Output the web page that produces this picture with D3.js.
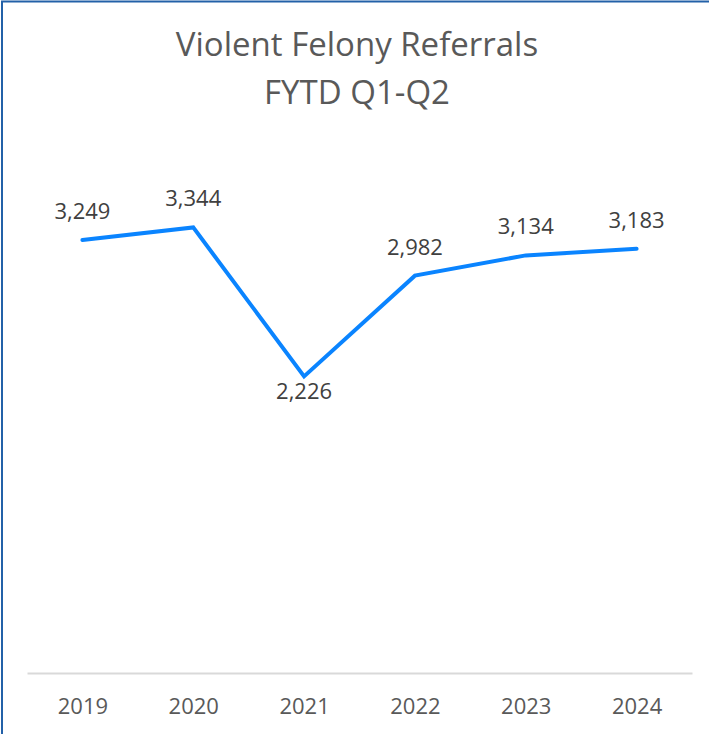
<!DOCTYPE html>
<html>
<head>
<meta charset="utf-8">
<script src="https://cdn.jsdelivr.net/npm/d3@7"></script>
<style>
  body { margin: 0; background: #fff; }
  svg text { font-family: "Open Sans", sans-serif; }
</style>
</head>
<body>
<div id="chart"></div>
<script>
const years = ['2019', '2020', '2021', '2022', '2023', '2024'];
const referrals = [3249, 3344, 2226, 2982, 3134, 3183];
const titleLines = ['Violent Felony Referrals', 'FYTD Q1-Q2'];

const width = 709, height = 734;
const margin = { top: 140, right: 17, bottom: 61, left: 27 };

const svg = d3.select('#chart')
    .append('svg')
    .attr('width', width)
    .attr('height', height);

// chart border (only top + left visible in the crop)
svg.append('rect')
    .attr('x', 2).attr('y', 1.5)
    .attr('width', width + 10).attr('height', height + 10)
    .attr('fill', 'none')
    .attr('stroke', '#2361A8')
    .attr('stroke-width', 2);

// title
svg.append('text')
    .attr('text-anchor', 'middle')
    .attr('x', 357)
    .attr('y', 56)
    .style('font-size', '33px')
    .style('fill', '#595959')
    .selectAll('tspan')
    .data(titleLines)
    .join('tspan')
    .attr('x', 357)
    .attr('dy', (d, i) => i === 0 ? 0 : 48)
    .text(d => d);

const xScale = d3.scalePoint()
    .domain(years)
    .range([margin.left, width - margin.right])
    .padding(0.5);

const yScale = d3.scaleLinear()
    .domain([0, 4000])
    .range([height - margin.bottom, margin.top]);

// x axis
const xAxis = svg.append('g')
    .attr('transform', `translate(0, ${height - margin.bottom})`)
    .call(d3.axisBottom(xScale).tickSize(0).tickPadding(25));

xAxis.select('.domain')
    .attr('stroke', '#D9D9D9')
    .attr('stroke-width', 2);

xAxis.selectAll('text')
    .style('font-size', '22px')
    .style('fill', '#595959')
    .style('font-family', '"Open Sans", sans-serif');

const data = years.map((y, i) => ({ year: y, value: referrals[i] }));

const line = d3.line()
    .x(d => xScale(d.year))
    .y(d => yScale(d.value));

svg.append('path')
    .datum(data)
    .attr('d', line)
    .attr('fill', 'none')
    .attr('stroke', '#0A84FF')
    .attr('stroke-width', 4)
    .attr('stroke-linecap', 'round')
    .attr('stroke-linejoin', 'miter');

// data labels (2021 sits below its point)
svg.selectAll('.label')
    .data(data)
    .join('text')
    .attr('class', 'label')
    .attr('text-anchor', 'middle')
    .attr('x', d => xScale(d.year))
    .attr('y', d => yScale(d.value) + (d.year === '2021' ? 23 : -21))
    .style('font-size', '22px')
    .style('fill', '#404040')
    .text(d => d3.format(',')(d.value));
</script>
</body>
</html>
